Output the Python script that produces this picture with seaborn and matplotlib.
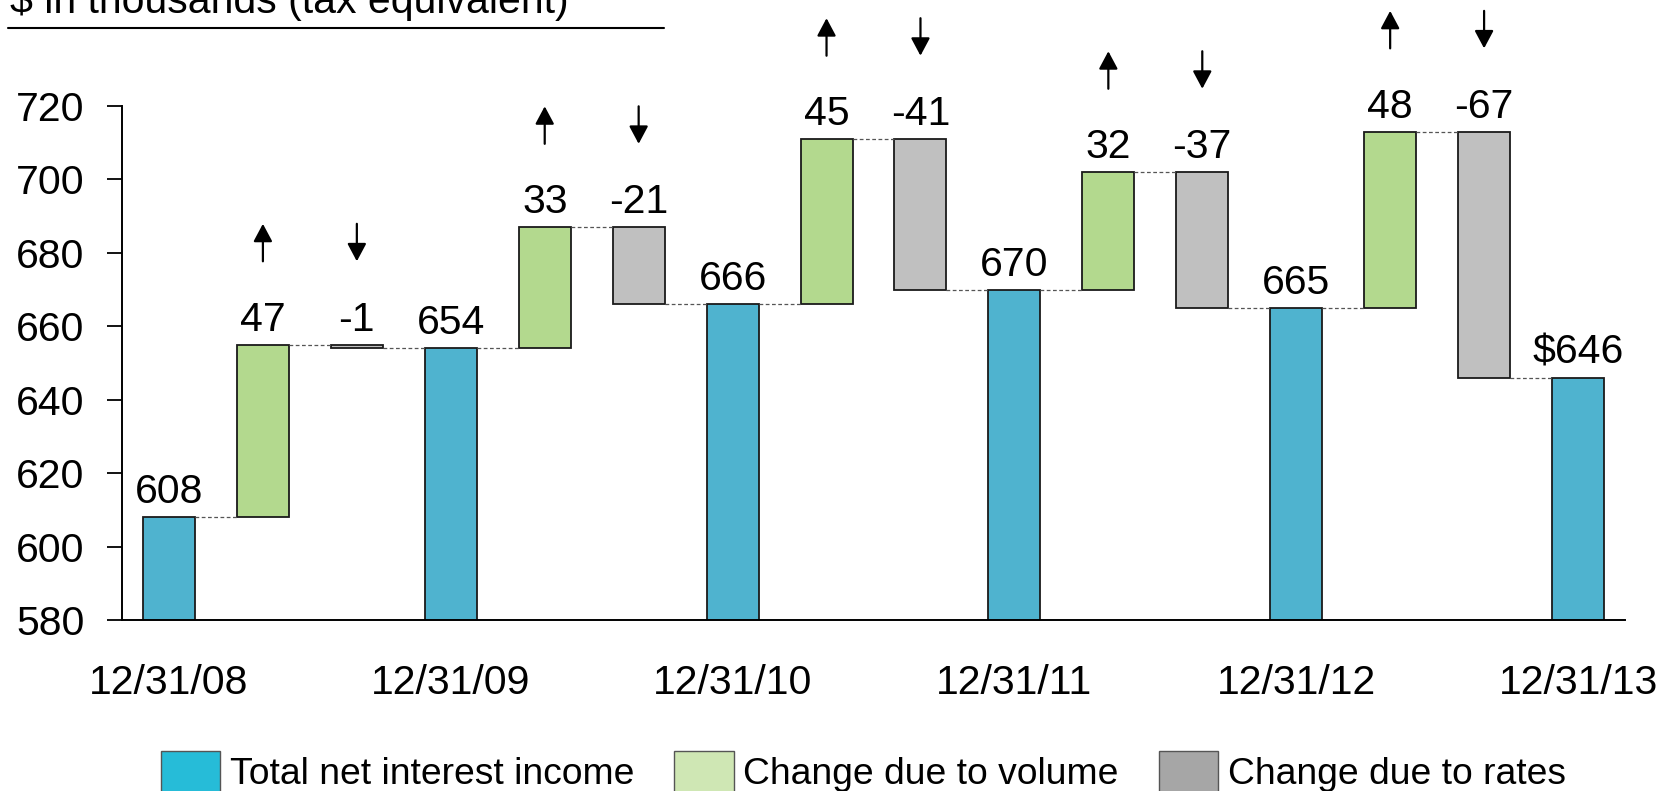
import matplotlib
matplotlib.use("Agg")
import matplotlib.pyplot as plt
import matplotlib.transforms as mtransforms
from matplotlib.lines import Line2D
from matplotlib.patches import Patch
import pandas as pd
import seaborn as sns

# Year-end totals and the two drivers of change between consecutive years
period_labels = ["12/31/08", "12/31/09", "12/31/10", "12/31/11", "12/31/12", "12/31/13"]
period_totals = [608, 654, 666, 670, 665, 646]
volume_changes = [47, 33, 45, 32, 48]
rate_changes = [-1, -21, -41, -37, -67]

series_names = ["Total net interest income", "Change due to volume", "Change due to rates"]
bar_colors = {"total": "#4fb3cf", "volume": "#b3d98e", "rates": "#c0c0c0"}
legend_colors = ["#26bcd8", "#cfe7b4", "#a6a6a6"]

Y_MIN, Y_MAX = 580, 720
FS = 29.5

sns.set_theme(style="white")
plt.rcParams["font.family"] = ["Liberation Sans", "DejaVu Sans"]
plt.rcParams.update({"text.color": "black", "xtick.color": "black",
                     "ytick.color": "black", "axes.labelcolor": "black"})

# Assemble the waterfall sequence: total, +volume, -rates, total, ...
rows = []
pos = 0
for i, total in enumerate(period_totals):
    label = f"${total}" if i == len(period_totals) - 1 else f"{total}"
    rows.append(dict(pos=pos, low=Y_MIN, high=total, kind="total", label=label, end=total))
    pos += 1
    if i < len(volume_changes):
        v = volume_changes[i]
        rows.append(dict(pos=pos, low=total, high=total + v, kind="volume", label=f"{v}", end=total + v))
        pos += 1
        level = total + v
        r = rate_changes[i]
        rows.append(dict(pos=pos, low=level + r, high=level, kind="rates", label=f"{r}", end=level + r))
        pos += 1
df = pd.DataFrame(rows)

fig = plt.figure(figsize=(16.65, 7.91), dpi=100)
ax = fig.add_axes([122 / 1665, 1 - 620 / 791, (1625 - 122) / 1665, (620 - 106) / 791])

BAR_W = 0.553
sns.barplot(
    data=df, x="pos", y="high", hue="kind", hue_order=["total", "volume", "rates"],
    palette=bar_colors, dodge=False, native_scale=True, width=BAR_W, errorbar=None,
    saturation=1, edgecolor="#1a1a1a", linewidth=1.3, legend=False, ax=ax,
)

# Float the change bars between their start and end levels
lookup = df.set_index("pos")
for patch in ax.patches:
    cx = int(round(patch.get_x() + patch.get_width() / 2))
    if cx in lookup.index:
        row = lookup.loc[cx]
        if row["kind"] != "total":
            patch.set_y(row["low"])
            patch.set_height(row["high"] - row["low"])

# Dashed connectors between consecutive bars
for (_, a), (_, b) in zip(df.iloc[:-1].iterrows(), df.iloc[1:].iterrows()):
    ax.plot([a["pos"] + BAR_W / 2, b["pos"] - BAR_W / 2], [a["end"], a["end"]],
            ls=(0, (3, 2)), color="#555555", lw=0.9, zorder=1)

# Value labels and direction arrows
for _, row in df.iterrows():
    x, top = row["pos"], row["high"]
    ax.annotate(row["label"], xy=(x, top), xytext=(0, 10), textcoords="offset points",
                ha="center", va="baseline", fontsize=FS, color="black", annotation_clip=False)
    if row["kind"] == "total":
        continue
    if row["kind"] == "volume":
        tail_pt, head_pt = 60, 87
    else:
        tail_pt, head_pt = 87, 60
    ax.annotate(
        "", xy=(x, top),
        xycoords=mtransforms.offset_copy(ax.transData, fig=fig, x=0, y=head_pt, units="points"),
        xytext=(x, top),
        textcoords=mtransforms.offset_copy(ax.transData, fig=fig, x=0, y=tail_pt, units="points"),
        arrowprops=dict(arrowstyle="-|>,head_length=0.6,head_width=0.32", color="black",
                        lw=1.6, shrinkA=0, shrinkB=0, mutation_scale=18),
        annotation_clip=False,
    )

ax.set_xlim(-0.5, len(df) - 0.5)
ax.set_ylim(Y_MIN, Y_MAX)
ax.set_yticks(range(Y_MIN, Y_MAX + 1, 20))
ax.set_xticks(df.loc[df["kind"] == "total", "pos"].tolist())
ax.set_xticklabels(period_labels)
ax.set_xlabel("")
ax.set_ylabel("")
ax.tick_params(axis="y", which="major", direction="out", length=11, width=1.3,
               color="black", labelcolor="black", pad=16, labelsize=FS, left=True)
ax.tick_params(axis="x", length=0, pad=32, labelsize=FS, labelcolor="black")
for side in ("top", "right"):
    ax.spines[side].set_visible(False)
for side in ("left", "bottom"):
    ax.spines[side].set_color("black")
    ax.spines[side].set_linewidth(1.4)

# Units heading with rule beneath
fig.text(10 / 1665, 1 - 13 / 791, r"\$ in thousands (tax equivalent)", fontsize=FS,
         ha="left", va="baseline", color="black")
fig.add_artist(Line2D([8 / 1665, 664 / 1665], [1 - 28 / 791] * 2, color="black", lw=1.5))

handles = [Patch(facecolor=c, edgecolor="#555555", linewidth=1.0) for c in legend_colors]
leg = fig.legend(handles, series_names, loc="center", bbox_to_anchor=(0.5185, 0.024), ncol=3,
                 frameon=False, fontsize=26.8, handlelength=1.6, handleheight=1.36,
                 handletextpad=0.25, columnspacing=1.08, borderpad=0)
for t in leg.get_texts():
    t.set_color("black")

fig.savefig("out.png", dpi=100)
